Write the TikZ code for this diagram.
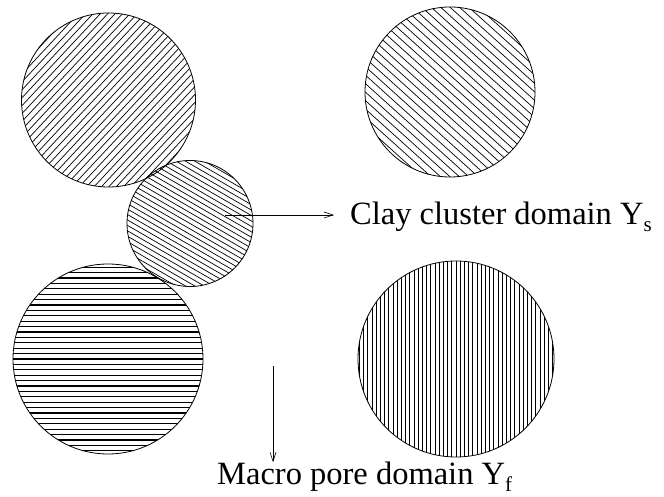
\documentclass[tikz,border=0pt]{standalone}
\usepackage{fontspec}
\setmainfont{Liberation Serif}
\usetikzlibrary{arrows.meta}

\tikzset{
  grain/.style={circle, draw, line width=0.8pt, inner sep=0pt, minimum size=#1},
  hatchline/.style={line width=0.7pt},
  pointer/.style={line width=0.6pt, -{Straight Barb[length=9pt,width=6pt]}},
  caption/.style={font=\fontsize{32.5}{39}\selectfont, inner sep=0pt, anchor=base west},
}

% parallel hatching clipped to a disc: #1 centre node, #2 radius, #3 angle, #4 spacing, #5 line width
\newcommand{\hatchdisc}[5]{%
  \begin{scope}
    \clip (#1.center) circle[radius=#2pt];
    \begin{scope}[shift={(#1.center)}, rotate=#3]
      \pgfmathtruncatemacro{\nlines}{#2/#4+1}
      \foreach \k in {-\nlines,...,\nlines}
        \draw[hatchline, line width=#5] (-#2-3, \k*#4) -- (#2+3, \k*#4);
    \end{scope}
  \end{scope}}

\newcommand{\sub}[1]{\raisebox{-0.2em}{\fontsize{21}{21}\selectfont #1}}

\begin{document}
\begin{tikzpicture}[x=1pt, y=1pt]
  \useasboundingbox (0,0) rectangle (664,497);

  % grains
  \node[grain=174pt] (c1) at (108.5,397) {};
  \node[grain=126pt] (c2) at (190,273.5) {};
  \node[grain=190pt] (c3) at (108,138) {};
  \node[grain=170pt] (c4) at (450,405) {};
  \node[grain=196pt] (c5) at (456,138) {};

  \hatchdisc{c1}{87}{47}{5.4}{0.7pt}
  \hatchdisc{c2}{63}{-30}{4.7}{0.7pt}
  \hatchdisc{c3}{95}{0}{5.4}{1.1pt}
  \hatchdisc{c4}{85}{-42}{6.3}{0.7pt}
  \hatchdisc{c5}{98}{90}{4.2}{0.8pt}

  % labels
  \node[caption] (clay) at (350,272) {Clay cluster domain Y\sub{s}};
  \node[caption] (macro) at (217,12) {Macro pore domain Y\sub{f}};

  % pointers
  \coordinate (rstart) at (225,282);
  \coordinate (dstart) at (273,131);
  \draw[pointer, shorten >=16pt] (rstart) -- (rstart -| clay.west);
  \draw[pointer] (dstart) -- (dstart |- macro.north);
\end{tikzpicture}
\end{document}
